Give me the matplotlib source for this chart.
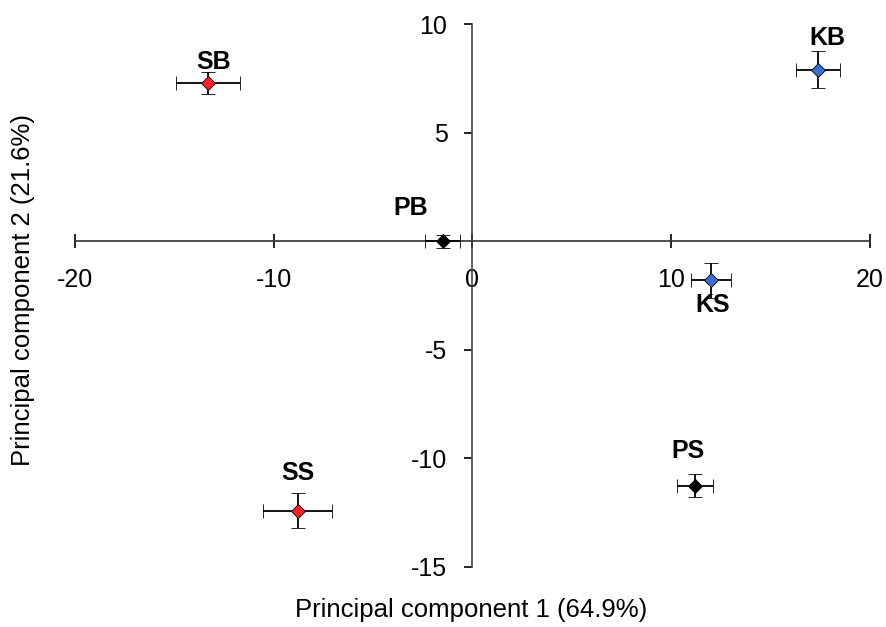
import numpy as np
import matplotlib.pyplot as plt

plt.rcParams['font.family'] = ['Liberation Sans', 'DejaVu Sans']
plt.rcParams['axes.unicode_minus'] = False

labels = ['SB', 'KB', 'PB', 'KS', 'SS', 'PS']
pc1 = [-13.3, 17.4, -1.5, 12.0, -8.8, 11.2]
pc2 = [7.3, 7.9, 0.0, -1.8, -12.4, -11.25]
pc1_err = [1.6, 1.1, 0.9, 1.0, 1.75, 0.9]
pc2_err = [0.5, 0.85, 0.3, 0.8, 0.8, 0.55]
colors = ['#ff1f2a', '#3b6fd6', 'black', '#3b6fd6', '#ff1f2a', 'black']
# label offsets in points (dx, dy)
offsets = [(4, 15), (7, 23), (-23, 24), (1, -18), (0, 27), (-5, 25)]

fig = plt.figure(figsize=(8.87, 6.27), dpi=100)
ax = fig.add_axes([0.0846, 0.0957, 0.896, 0.866])

for x, y, xe, ye, c, lab, off in zip(pc1, pc2, pc1_err, pc2_err, colors, labels, offsets):
    ax.errorbar(x, y, xerr=xe, yerr=ye, fmt='D', color='black', mfc=c, mec='black',
                mew=0.6, ms=7, ecolor='black', elinewidth=1.3, capsize=5, capthick=1.3, zorder=3)
    ax.annotate(lab, (x, y), xytext=off, textcoords='offset points', ha='center', va='center',
                fontsize=18, fontweight='bold')

ax.set_xlim(-20, 20)
ax.set_ylim(-15, 10)
ax.spines['left'].set_position(('data', 0))
ax.spines['bottom'].set_position(('data', 0))
ax.spines['right'].set_visible(False)
ax.spines['top'].set_visible(False)
ax.spines['left'].set_color('#444444')
ax.spines['bottom'].set_color('#333333')
ax.spines['left'].set_linewidth(1.2)
ax.spines['bottom'].set_linewidth(1.2)

ax.set_xticks([-20, -10, 0, 10, 20])
ax.set_yticks([-15, -10, -5, 5, 10])
ax.tick_params(axis='x', direction='inout', length=10, width=1.2, pad=14, labelsize=18)
ax.tick_params(axis='y', direction='out', length=6, width=1.2, pad=12, labelsize=18)

fig.text(0.531, 0.027, 'Principal component 1 (64.9%)', ha='center', va='center', fontsize=18.5)
fig.text(0.026, 0.537, 'Principal component 2 (21.6%)', ha='center', va='center',
         rotation=90, fontsize=18.5)

fig.savefig('out.png', dpi=100)
